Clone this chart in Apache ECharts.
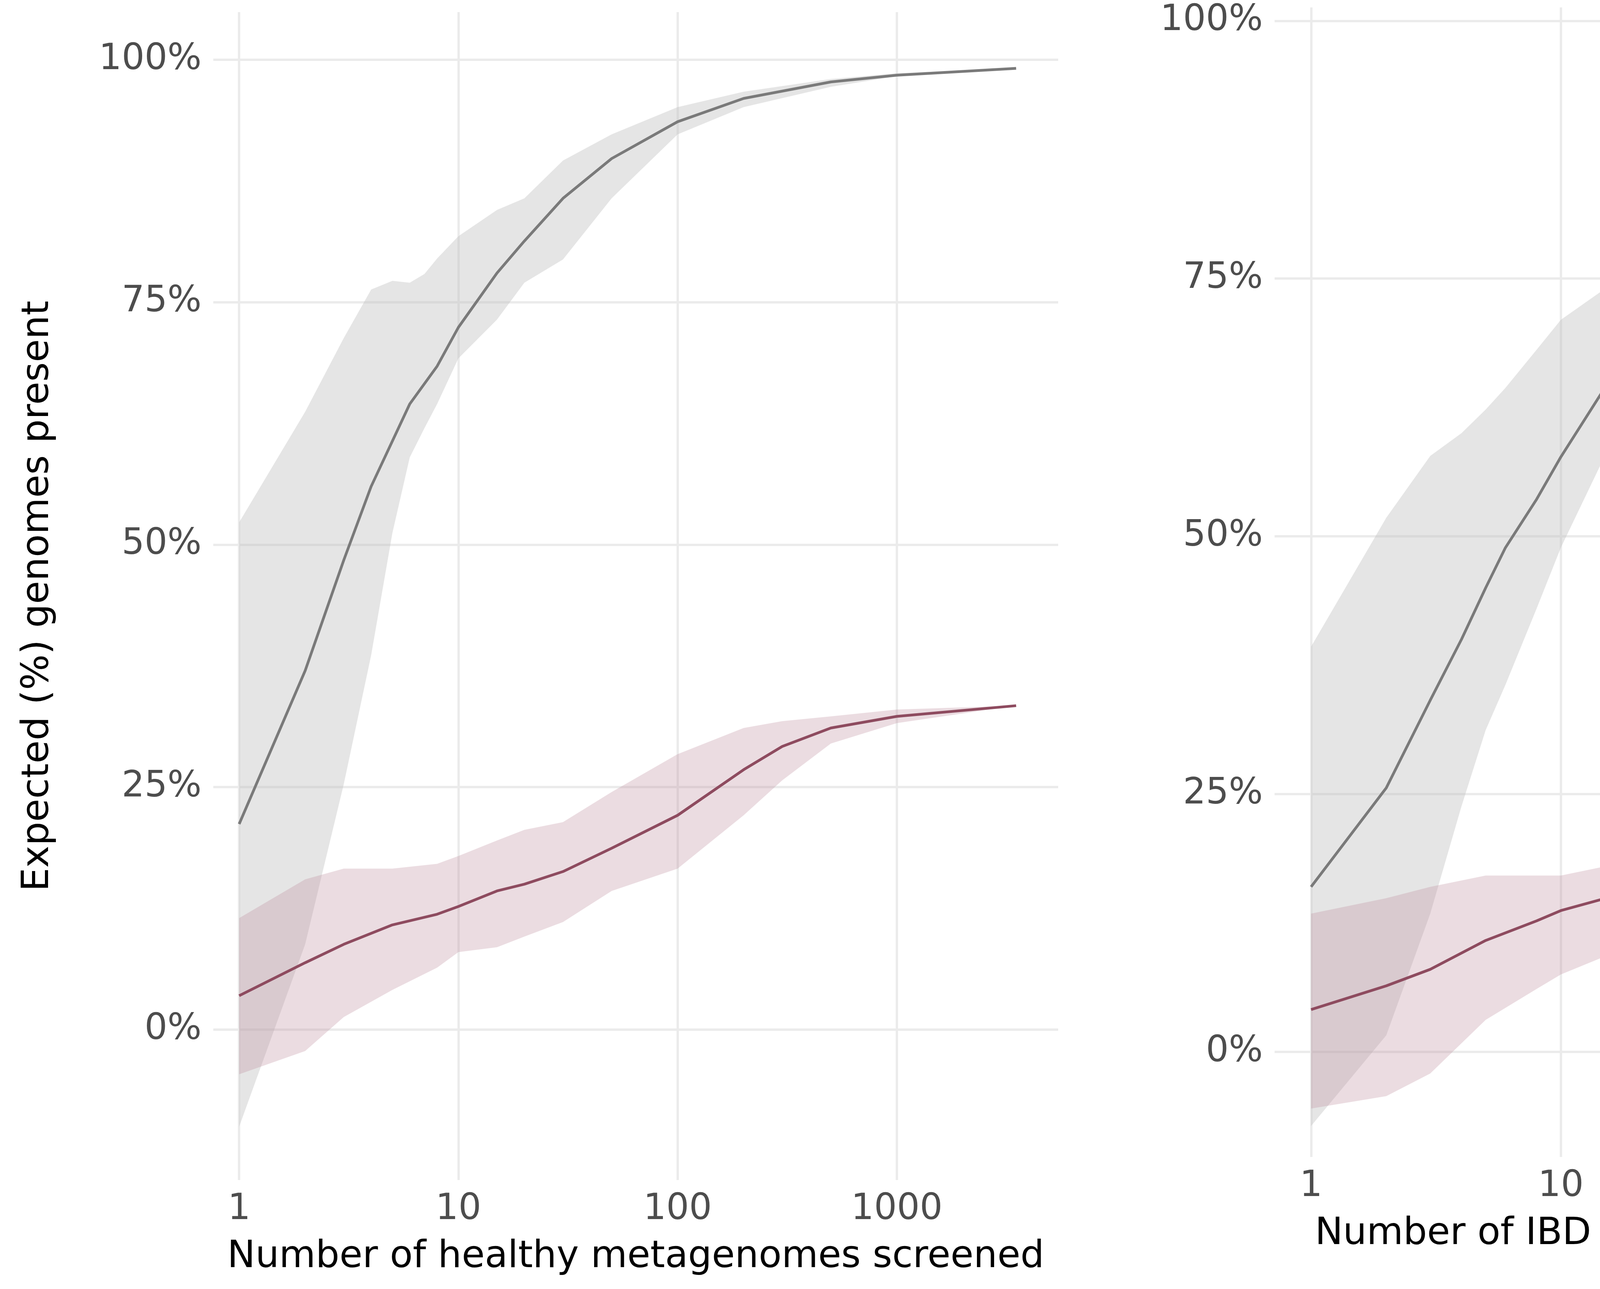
<!DOCTYPE html>
<html>
<head>
<meta charset="utf-8">
<script src="https://cdn.jsdelivr.net/npm/echarts@6/dist/echarts.min.js"></script>
<style>html,body{margin:0;background:#fff}#chart{width:6050px;height:3300px}</style>
</head>
<body>
<div id="chart"></div>
<script>
// Healthy panel (left)
const healthyUhggN = [1, 2, 3, 4, 6, 8, 10, 15, 20, 30, 50, 100, 200, 500, 1000, 3500];
const healthyUhggMean = [21.2, 37, 48.4, 56, 64.5, 68.4, 72.4, 78, 81.3, 85.7, 89.8, 93.6, 96, 97.7, 98.4, 99.1];
const healthyUhggBandN = [1, 2, 3, 4, 5, 6, 7, 8, 10, 15, 20, 30, 50, 100, 200, 500, 1000, 3500];
const healthyUhggHigh = [52.3, 63.7, 71.3, 76.3, 77.2, 77, 77.9, 79.5, 81.8, 84.5, 85.7, 89.6, 92.3, 95.1, 96.7, 98, 98.6, 99.1];
const healthyUhggLow = [-10, 8.8, 25.3, 38.6, 51.2, 59, 62, 64.5, 69.2, 73.2, 77, 79.4, 85.7, 92.3, 95.1, 97.2, 98.3, 99.1];

const healthyRefN = [1, 2, 3, 5, 8, 10, 15, 20, 30, 50, 100, 200, 300, 500, 1000, 3500];
const healthyRefMean = [3.5, 6.9, 8.8, 10.8, 11.9, 12.7, 14.3, 15, 16.3, 18.7, 22.1, 26.8, 29.2, 31.1, 32.3, 33.4];
const healthyRefHigh = [11.5, 15.5, 16.6, 16.6, 17.1, 17.9, 19.5, 20.6, 21.4, 24.5, 28.4, 31.1, 31.8, 32.3, 33, 33.4];
const healthyRefLow = [-4.6, -2.2, 1.3, 4.1, 6.4, 8, 8.5, 9.6, 11.1, 14.3, 16.6, 22.1, 25.7, 29.5, 31.6, 33.4];

// IBD panel (right)
const ibdUhggN = [1, 2, 3, 4, 5, 6, 8, 10, 15, 20, 30, 50, 100, 200, 500, 950];
const ibdUhggMean = [16, 25.6, 34.1, 40, 45, 48.9, 53.6, 57.7, 64.4, 68.1, 74, 79.2, 84.8, 88.8, 92.5, 95.1];
const ibdUhggHigh = [39.3, 51.8, 57.8, 60, 62.3, 64.4, 68.1, 71, 74, 77.7, 81.4, 84.6, 88, 90.5, 93.2, 95.1];
const ibdUhggLow = [-7.2, 1.6, 13.4, 23.8, 31.2, 35.6, 43, 48.9, 57.8, 63.7, 69.6, 77, 81.4, 85.8, 91, 95.1];

const ibdRefN = [1, 2, 3, 5, 8, 10, 20, 30, 50, 100, 200, 400, 600, 800, 950];
const ibdRefMean = [4.1, 6.4, 8, 10.8, 12.7, 13.7, 15.7, 16.7, 18.2, 20.1, 23, 26, 28.7, 30.8, 32.6];
const ibdRefHigh = [13.4, 14.9, 16, 17.1, 17.1, 17.1, 18.6, 19.8, 21.1, 23.8, 27.5, 30.4, 34.4, 34.4, 32.9];
const ibdRefLow = [-5.5, -4.3, -2.1, 3.1, 6.1, 7.5, 10.5, 11.7, 13.4, 14.9, 17.1, 19.4, 23, 27.5, 31.9];

const xTicks = [0, 1, 2, 3];
const xTickLabels = ['1', '10', '100', '1000'];
const yTicks = [0, 25, 50, 75, 100];

const UHGG_LINE = '#7a7a7a';
const UHGG_FILL = 'rgba(190,190,190,0.4)';
const REF_LINE = '#8e4b5f';
const REF_FILL = 'rgba(190,140,155,0.3)';

const pts = (ns, vs) => ns.map((n, i) => [Math.log10(n), vs[i]]);

// 带状区域：用 custom 系列画一个多边形（上界正向 + 下界反向）
function band(idx, ns, low, high, fill) {
  const data = ns.map((n, i) => [Math.log10(n), low[i], high[i]]);
  return {
    type: 'custom', xAxisIndex: idx, yAxisIndex: idx, data: data, silent: true, z: 1,
    encode: { x: 0, y: [1, 2] },
    renderItem: (params, api) => {
      if (params.dataIndex !== 0) return null;
      const up = data.map(d => api.coord([d[0], d[2]]));
      const down = data.map(d => api.coord([d[0], d[1]])).reverse();
      return { type: 'polygon', shape: { points: up.concat(down) }, style: { fill: fill } };
    }
  };
}
function line(idx, ns, vs, color) {
  return { type: 'line', xAxisIndex: idx, yAxisIndex: idx, data: pts(ns, vs), symbol: 'none',
    lineStyle: { color: color, width: 7 }, z: 3 };
}

const labelStyle = { color: '#4d4d4d', fontSize: 92, fontFamily: 'DejaVu Sans' };
const gridLine = { show: true, lineStyle: { color: '#ebebeb', width: 6 } };

function xAxis(idx, min, max, title) {
  return {
    type: 'value', gridIndex: idx, min: min, max: max,
    axisLine: { show: false },
    axisTick: { show: false, customValues: xTicks },
    splitLine: gridLine,
    axisLabel: Object.assign({}, labelStyle, { customValues: xTicks, margin: 30,
      formatter: v => xTickLabels[xTicks.indexOf(Math.round(v))] || '' }),
    name: title, nameLocation: 'middle', nameGap: 150,
    nameTextStyle: { color: '#000', fontSize: 96, fontFamily: 'DejaVu Sans' }
  };
}
function yAxis(idx, min, max, title) {
  return {
    type: 'value', gridIndex: idx, min: min, max: max,
    axisLine: { show: false },
    axisTick: { show: false, customValues: yTicks },
    splitLine: gridLine,
    axisLabel: Object.assign({}, labelStyle, { customValues: yTicks, margin: 30, formatter: '{value}%' }),
    name: title, nameLocation: 'middle', nameGap: 400,
    nameTextStyle: { color: '#000', fontSize: 96, fontFamily: 'DejaVu Sans' }
  };
}

const option = {
  backgroundColor: '#fff',
  animation: false,
  grid: [
    { left: 546, top: 31, width: 2163, height: 2990 },
    { left: 3263, top: 19, width: 2105, height: 2943 }
  ],
  xAxis: [
    xAxis(0, -0.118, 3.736, 'Number of healthy metagenomes screened'),
    xAxis(1, -0.146, 3.146, 'Number of IBD metagenomes screened')
  ],
  yAxis: [
    yAxis(0, -15.5, 104.9, 'Expected (%) genomes present'),
    yAxis(1, -10.2, 101.3, '')
  ],
  series: [
    band(0, healthyUhggBandN, healthyUhggLow, healthyUhggHigh, UHGG_FILL),
    band(0, healthyRefN, healthyRefLow, healthyRefHigh, REF_FILL),
    line(0, healthyUhggN, healthyUhggMean, UHGG_LINE),
    line(0, healthyRefN, healthyRefMean, REF_LINE),
    band(1, ibdUhggN, ibdUhggLow, ibdUhggHigh, UHGG_FILL),
    band(1, ibdRefN, ibdRefLow, ibdRefHigh, REF_FILL),
    line(1, ibdUhggN, ibdUhggMean, UHGG_LINE),
    line(1, ibdRefN, ibdRefMean, REF_LINE)
  ],
  graphic: [
    { type: 'rect', left: 5496, top: 1426, shape: { width: 125, height: 125 }, style: { fill: UHGG_FILL } },
    { type: 'line', shape: { x1: 5500, y1: 1488, x2: 5617, y2: 1488 }, style: { stroke: UHGG_LINE, lineWidth: 7 } },
    { type: 'text', left: 5665, top: 1445, style: { text: 'UHGG', fill: '#000', fontSize: 92, fontFamily: 'DejaVu Sans' } },
    { type: 'rect', left: 5496, top: 1566, shape: { width: 125, height: 125 }, style: { fill: REF_FILL } },
    { type: 'line', shape: { x1: 5500, y1: 1628, x2: 5617, y2: 1628 }, style: { stroke: REF_LINE, lineWidth: 7 } },
    { type: 'text', left: 5665, top: 1585, style: { text: 'RefSeq', fill: '#000', fontSize: 92, fontFamily: 'DejaVu Sans' } }
  ]
};

echarts.init(document.getElementById('chart')).setOption(option);
</script>
</body>
</html>
